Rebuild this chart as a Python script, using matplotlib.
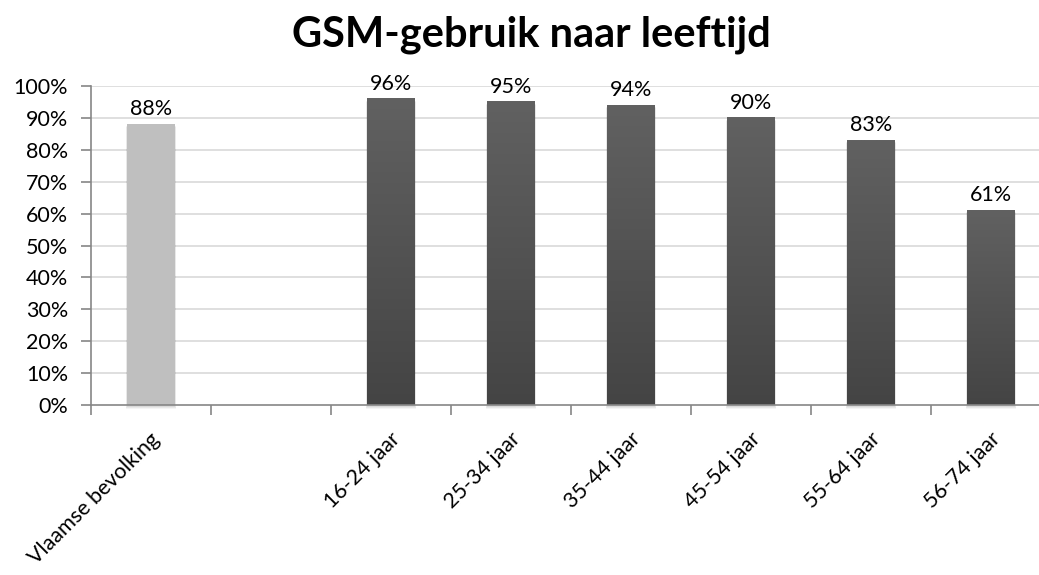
import matplotlib
matplotlib.use("Agg")
import matplotlib.pyplot as plt
import numpy as np
from matplotlib.patches import Rectangle
from matplotlib.colors import LinearSegmentedColormap

categories = ["Vlaamse bevolking", "", "16-24 jaar", "25-34 jaar", "35-44 jaar",
              "45-54 jaar", "55-64 jaar", "56-74 jaar"]
values = [88, None, 96, 95, 94, 90, 83, 61]
labels = ["88%", "", "96%", "95%", "94%", "90%", "83%", "61%"]
yticks = [0, 10, 20, 30, 40, 50, 60, 70, 80, 90, 100]

plt.rcParams['font.family'] = ['Lato', 'DejaVu Sans']

W, H = 1039, 575
fig = plt.figure(figsize=(W / 100, H / 100), dpi=100)
left, right, bottom, top = 91, 1051, 405, 86
ax = fig.add_axes([left / W, 1 - bottom / H, (right - left) / W, (bottom - top) / H])
ax.set_xlim(0, len(categories))
ax.set_ylim(0, 100)

for y in yticks[1:]:
    ax.axhline(y, color="#d9d9d9", lw=1.2, zorder=0)

grad = np.linspace(0, 1, 256).reshape(-1, 1)
dark = LinearSegmentedColormap.from_list("d", ["#444444", "#616161"])
bw = 0.4
for i, v in enumerate(values):
    if v is None:
        continue
    x0 = i + 0.5 - bw / 2
    for k, a in enumerate([0.06, 0.05, 0.04]):
        d = 0.012 * (k + 1)
        ax.add_patch(Rectangle((x0 - d * 0.3, -0.6 - k * 0.3), bw + 2 * d * 0.3, v + 0.3,
                               facecolor="#000000", alpha=a, lw=0, zorder=1, clip_on=False))
    if i == 0:
        ax.bar(i + 0.5, v, width=bw, color="#bfbfbf", zorder=2)
    else:
        ax.imshow(grad, extent=(x0, x0 + bw, 0, v), origin="lower", cmap=dark,
                  aspect="auto", zorder=2)
    ax.text(i + 0.5, v + 1.6, labels[i], ha="center", va="bottom", fontsize=15.5, color="#000000")

ax.set_xlim(0, len(categories))
ax.set_ylim(0, 100)

for s in ["top", "right"]:
    ax.spines[s].set_visible(False)
for s in ["left", "bottom"]:
    ax.spines[s].set_color("#868686")
    ax.spines[s].set_linewidth(1.2)
    ax.spines[s].set_zorder(3)

ax.set_yticks(yticks)
ax.set_yticklabels([f"{t}%" for t in yticks], fontsize=15.5)
ax.set_xticks(np.arange(0, len(categories) + 1))
ax.set_xticklabels([])
ax.tick_params(axis="both", direction="out", length=7, width=1.2, color="#868686")
ax.tick_params(axis="y", pad=9.5)

for i, c in enumerate(categories):
    if not c:
        continue
    ax.text(i + 0.5 - 0.01, -7.5, c, rotation=45, ha="right", va="top",
            rotation_mode="anchor", fontsize=15.5, transform=ax.transData)

fig.text(531 / W, 1 - 35 / H, "GSM-gebruik naar leeftijd", ha="center", va="center",
         fontsize=30, fontweight="bold")

fig.savefig("out.png", dpi=100)
